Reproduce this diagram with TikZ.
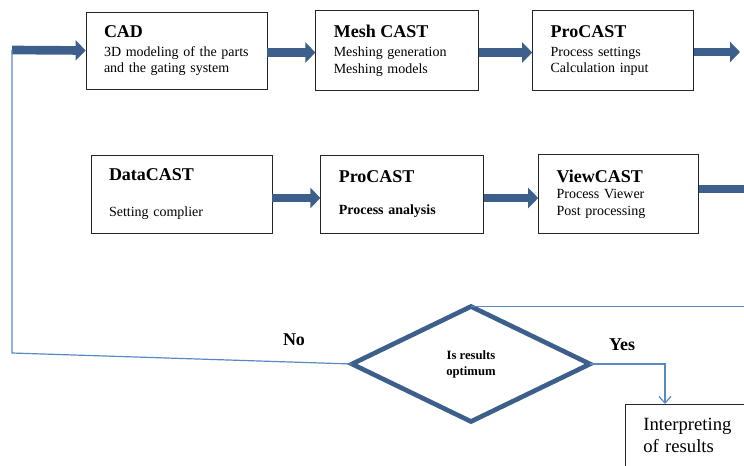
\documentclass[tikz,border=0pt]{standalone}
\usepackage{fontspec}
\setmainfont{Liberation Serif}
\usetikzlibrary{shapes.geometric,arrows.meta,positioning}
\definecolor{flowblue}{RGB}{61,95,140}
\definecolor{lineblue}{RGB}{91,135,196}
\newcommand{\stagename}[1]{{\fontsize{13.5}{16}\selectfont\bfseries #1}}
\tikzset{
  stage/.style={draw=black!85, line width=0.6pt, fill=white, align=left,
    inner xsep=13.5pt, inner ysep=0pt, font=\fontsize{10.5}{12.5}\selectfont},
  flow/.style={draw=flowblue, line width=6.5pt, -{Triangle[length=7.5pt,width=15pt]}},
  backline/.style={draw=lineblue, line width=0.9pt},
  check/.style={diamond, draw=flowblue, line width=3.5pt, minimum width=178.5pt,
    minimum height=86.25pt, inner sep=0pt, outer sep=0pt, align=center,
    font=\fontsize{9.5}{12}\selectfont\bfseries},
  answer/.style={font=\fontsize{13.5}{16}\selectfont\bfseries}
}

\begin{document}
\begin{tikzpicture}[x=0.75pt,y=-0.75pt]
  \clip (0,0) rectangle (744,465);
  \node[stage, text width=108.75pt, minimum height=57.75pt] (cad) at (176.5,50.5)
    {\stagename{CAD}\\[1.75pt]3D modeling of the parts\\and the gating system};
  \node[stage, text width=95.25pt, minimum height=60pt, right=36pt of cad] (mesh)
    {\stagename{Mesh CAST}\\[1.75pt]Meshing generation\\Meshing models};
  \node[stage, text width=93.75pt, minimum height=60pt, right=39.75pt of mesh] (pro1)
    {\stagename{ProCAST}\\[1.75pt]Process settings\\Calculation input};
  \node[stage, text width=108.75pt, minimum height=58.5pt] (data) at (181.5,194)
    {\stagename{DataCAST}\\[15pt]Setting complier};
  \node[stage, text width=95.25pt, minimum height=58.5pt, right=36pt of data] (pro2)
    {\stagename{ProCAST}\\[12pt]\textbf{Process analysis}};
  \node[stage, text width=93pt, minimum height=59.25pt, right=40.5pt of pro2] (view)
    {\stagename{ViewCAST}\\[-0.5pt]Process Viewer\\Post processing};
  \node[check] (check) at (471,364) {Is results\\optimum};
  \node[stage, anchor=north west, text width=120pt, inner ysep=10pt, text depth=30pt,
    font=\fontsize{14}{16.5}\selectfont] (result) at (625,404) {Interpreting\\of results};
  \node[answer] (no) at (294,340) {No};
  \node[answer] (yes) at (622,345) {Yes};

  \coordinate (start) at (12,50);
  \coordinate (bend) at (12,353);
  \coordinate (out1) at (740,52);
  \coordinate (out2) at (758,189);
  \coordinate (back) at (744,306.5);

  \draw[flow] (start) -- (cad.west);
  \draw[flow] ([yshift=-1.5pt]cad.east) -- ([yshift=-1.5pt]mesh.west);
  \draw[flow] ([yshift=-1.5pt]mesh.east) -- ([yshift=-1.5pt]pro1.west);
  \draw[flow] (pro1.east |- out1) -- (out1);
  \draw[flow] ([yshift=-3pt]data.east) -- ([yshift=-3pt]pro2.west);
  \draw[flow] ([yshift=-3pt]pro2.east) -- ([yshift=-3pt]view.west);
  \draw[flow] (view.east |- out2) -- (out2);
  \draw[backline] (start) -- (bend) -- (check.west);
  \draw[backline] (back) -- (check.north);
  \draw[backline, -{Straight Barb[length=5pt,width=9pt]}] (check.east) -| ([xshift=30pt]result.north west);
\end{tikzpicture}
\end{document}
